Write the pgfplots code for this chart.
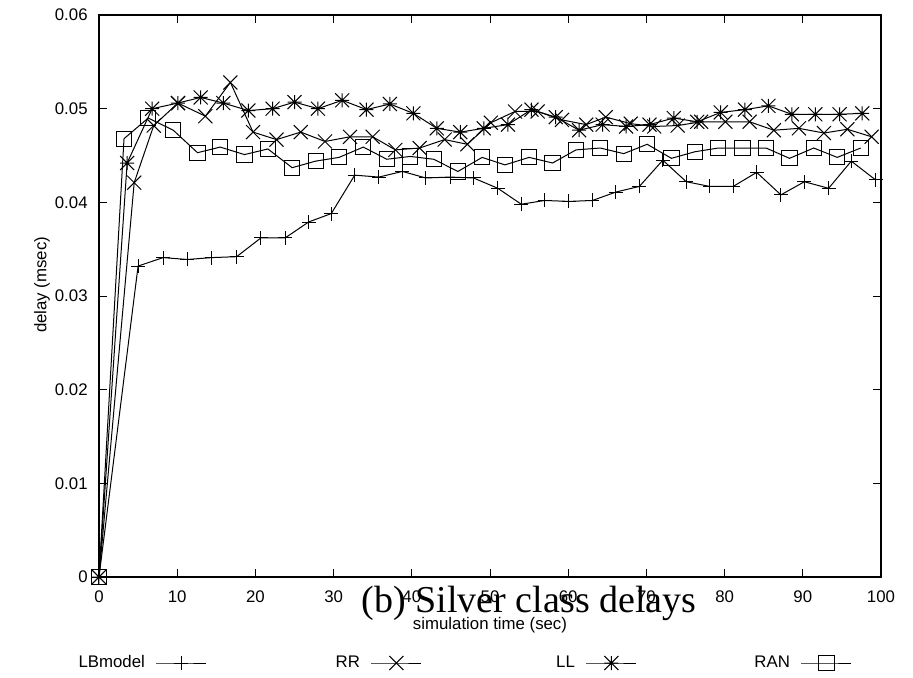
\documentclass[border=0pt]{standalone}
\usepackage{pgfplots}
\pgfplotsset{compat=1.18}
\usepackage{fontspec}
\setmainfont{Liberation Sans}
\newfontfamily\timesfont{Liberation Serif}

\pgfdeclareplotmark{gpplus}{%
 \pgfpathmoveto{\pgfqpoint{-\pgfplotmarksize}{0pt}}\pgfpathlineto{\pgfqpoint{\pgfplotmarksize}{0pt}}%
 \pgfpathmoveto{\pgfqpoint{0pt}{-\pgfplotmarksize}}\pgfpathlineto{\pgfqpoint{0pt}{\pgfplotmarksize}}%
 \pgfusepathqstroke}
\pgfdeclareplotmark{gpcross}{%
 \pgfpathmoveto{\pgfqpoint{-\pgfplotmarksize}{-\pgfplotmarksize}}\pgfpathlineto{\pgfqpoint{\pgfplotmarksize}{\pgfplotmarksize}}%
 \pgfpathmoveto{\pgfqpoint{-\pgfplotmarksize}{\pgfplotmarksize}}\pgfpathlineto{\pgfqpoint{\pgfplotmarksize}{-\pgfplotmarksize}}%
 \pgfusepathqstroke}
\pgfdeclareplotmark{gpstar}{%
 \pgfpathmoveto{\pgfqpoint{-\pgfplotmarksize}{0pt}}\pgfpathlineto{\pgfqpoint{\pgfplotmarksize}{0pt}}%
 \pgfpathmoveto{\pgfqpoint{0pt}{-\pgfplotmarksize}}\pgfpathlineto{\pgfqpoint{0pt}{\pgfplotmarksize}}%
 \pgfpathmoveto{\pgfqpoint{-\pgfplotmarksize}{-\pgfplotmarksize}}\pgfpathlineto{\pgfqpoint{\pgfplotmarksize}{\pgfplotmarksize}}%
 \pgfpathmoveto{\pgfqpoint{-\pgfplotmarksize}{\pgfplotmarksize}}\pgfpathlineto{\pgfqpoint{\pgfplotmarksize}{-\pgfplotmarksize}}%
 \pgfusepathqstroke}

\pgfplotstableread{
x y
0 0
5.0 0.0332
8.2 0.0341
11.3 0.0339
14.4 0.0341
17.6 0.0342
20.7 0.0362
23.8 0.0362
26.8 0.0379
29.7 0.0388
32.7 0.0429
35.8 0.0427
38.8 0.0433
41.8 0.0426
44.9 0.0427
47.9 0.0426
51.0 0.0415
54.0 0.0398
57.0 0.0402
60.1 0.0401
63.1 0.0402
66.1 0.0411
69.1 0.0417
72.1 0.0445
75.1 0.0422
78.1 0.0417
81.1 0.0417
84.1 0.0432
87.2 0.0408
90.2 0.0422
93.3 0.0415
96.2 0.0444
99.3 0.0424
}\lbmodel

\pgfplotstableread{
x y
0 0
4.5 0.0421
7.0 0.0482
10.1 0.0506
13.6 0.0492
16.8 0.0528
19.7 0.0475
22.7 0.0467
25.8 0.0475
28.9 0.0465
32.1 0.0470
35.0 0.0470
37.9 0.0456
41.0 0.0458
44.2 0.0467
47.1 0.0462
50.1 0.0485
53.2 0.0497
56.1 0.0497
59.2 0.0488
62.3 0.0483
64.8 0.0491
68.0 0.0484
71.0 0.0481
74.0 0.0482
77.0 0.0486
80.1 0.0486
83.2 0.0486
86.3 0.0477
89.5 0.0479
92.7 0.0474
95.7 0.0478
98.8 0.0470
}\rr

\pgfplotstableread{
x y
0 0
3.6 0.0442
6.8 0.0500
10.1 0.0506
13.0 0.0512
15.9 0.0506
19.1 0.0498
22.2 0.0500
25.0 0.0507
28.0 0.0500
31.1 0.0509
34.2 0.0499
37.2 0.0505
40.2 0.0495
43.2 0.0479
46.2 0.0475
49.2 0.0479
52.3 0.0483
55.3 0.0499
58.4 0.0491
61.4 0.0477
64.4 0.0483
67.4 0.0481
70.4 0.0483
73.5 0.0490
76.5 0.0486
79.5 0.0496
82.6 0.0499
85.6 0.0503
88.6 0.0494
91.6 0.0494
94.7 0.0494
97.6 0.0495
}\ll

\pgfplotstableread{
x y
0 0
3.2 0.0468
6.3 0.0490
9.5 0.0477
12.6 0.0453
15.5 0.0459
18.6 0.0451
21.6 0.0457
24.7 0.0437
27.7 0.0444
30.7 0.0448
33.8 0.0459
36.8 0.0446
39.8 0.0449
42.8 0.0446
45.9 0.0433
49.0 0.0448
51.9 0.0440
55.0 0.0448
58.0 0.0442
61.0 0.0456
64.1 0.0458
67.1 0.0452
70.1 0.0462
73.2 0.0447
76.2 0.0454
79.2 0.0458
82.3 0.0458
85.3 0.0458
88.3 0.0447
91.4 0.0458
94.4 0.0448
97.4 0.0458
}\ran

\begin{document}
\begin{tikzpicture}
\useasboundingbox (-49.5pt,-50pt) rectangle (407pt,288.5pt);
\begin{axis}[
  at={(0pt,0pt)}, anchor=south west,
  scale only axis, width=391pt, height=281pt,
  xmin=0, xmax=100, ymin=0, ymax=0.06,
  scaled y ticks=false, scaled x ticks=false,
  xtick={0,10,20,30,40,50,60,70,80,90,100},
  xticklabels={0,10,20,30,40,50,60,70,80,90,100},
  ytick={0,0.01,0.02,0.03,0.04,0.05,0.06},
  yticklabels={0,0.01,0.02,0.03,0.04,0.05,0.06},
  tick align=inside, major tick length=4pt,
  xtick pos=both, ytick pos=both,
  axis line style={line width=0.6pt, black},
  tick style={line width=0.5pt, black},
  tick label style={font=\fontsize{8.4}{10}\selectfont},
  yticklabel style={inner sep=0pt, xshift=-5.5pt},
  xticklabel style={inner sep=0pt, yshift=-6.5pt},
  label style={font=\fontsize{8.4}{10}\selectfont},
  ylabel={delay (msec)},
  ylabel style={at={(axis description cs:-0.073,0.52)}, anchor=center},
  xlabel={simulation time (sec)},
  xlabel style={at={(axis description cs:0.5,0)}, anchor=center, yshift=-24pt},
  title={(b) Silver class delays},
  title style={at={(axis description cs:0.55,0)}, anchor=base, yshift=-23.5pt,
    font=\timesfont\fontsize{19}{19}\selectfont},
  every axis plot/.append style={line width=0.5pt, black},
  legend plot pos=right,
  legend columns=4,
  legend image code/.code={\draw[mark repeat=2,mark phase=2] plot coordinates {(0pt,0pt)(12.5pt,0pt)(25pt,0pt)};},
  legend style={at={(axis description cs:0.466,-0.153)}, anchor=center,
    draw=none, fill=none, font=\fontsize{8.4}{10}\selectfont,
    nodes={inner sep=0pt},
    /tikz/every odd column/.style={column sep=5.5pt},
    /tikz/every even column/.style={column sep=41.5pt}},
]
\addplot[mark=gpplus, mark size=3.5pt] table[x=x,y=y] {\lbmodel};
\addlegendentry{\makebox[35pt][r]{LBmodel}}
\addplot[mark=gpcross, mark size=3.5pt] table[x=x,y=y] {\rr};
\addlegendentry{\makebox[35pt][r]{RR}}
\addplot[mark=gpstar, mark size=3.5pt] table[x=x,y=y] {\ll};
\addlegendentry{\makebox[35pt][r]{LL}}
\addplot[mark=square, mark size=3.8pt] table[x=x,y=y] {\ran};
\addlegendentry{\makebox[35pt][r]{RAN}}
\end{axis}
\end{tikzpicture}
\end{document}
